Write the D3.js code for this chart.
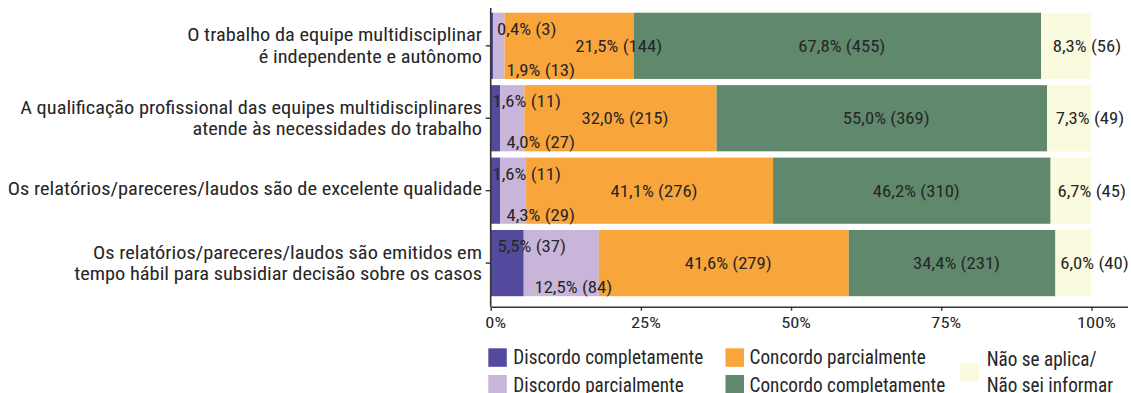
<!DOCTYPE html>
<html>
<head>
<meta charset="utf-8">
<script src="https://cdn.jsdelivr.net/npm/d3@7"></script>
<style>
  html, body { margin: 0; padding: 0; background: #ffffff; }
  svg { display: block; }
</style>
</head>
<body>
<svg id="chart" width="1131" height="393"></svg>
<script>
// Survey statements (one bar each); "\n" marks a line break in the axis label
const categories = [
  "O trabalho da equipe multidisciplinar\né independente e autônomo",
  "A qualificação profissional das equipes multidisciplinares\natende às necessidades do trabalho",
  "Os relatórios/pareceres/laudos são de excelente qualidade",
  "Os relatórios/pareceres/laudos são emitidos em\ntempo hábil para subsidiar decisão sobre os casos"
];

// Response shares (%) and counts, in stacking order
const discordoCompletamentePct = [0.4, 1.6, 1.6, 5.5];
const discordoCompletamenteN   = [3, 11, 11, 37];
const discordoParcialmentePct  = [1.9, 4.0, 4.3, 12.5];
const discordoParcialmenteN    = [13, 27, 29, 84];
const concordoParcialmentePct  = [21.5, 32.0, 41.1, 41.6];
const concordoParcialmenteN    = [144, 215, 276, 279];
const concordoCompletamentePct = [67.8, 55.0, 46.2, 34.4];
const concordoCompletamenteN   = [455, 369, 310, 231];
const naoSeAplicaPct           = [8.3, 7.3, 6.7, 6.0];
const naoSeAplicaN             = [56, 49, 45, 40];

const seriesNames = [
  "Discordo completamente",
  "Discordo parcialmente",
  "Concordo parcialmente",
  "Concordo completamente",
  "Não se aplica/\nNão sei informar"
];
const seriesColors = ["#544a9d", "#c9b5d9", "#f8a53c", "#5f886d", "#fafadf"];

const xTickValues = [0, 0.25, 0.5, 0.75, 1];
const xTickLabels = ["0%", "25%", "50%", "75%", "100%"];

const pctSeries = [discordoCompletamentePct, discordoParcialmentePct, concordoParcialmentePct,
                   concordoCompletamentePct, naoSeAplicaPct];
const nSeries = [discordoCompletamenteN, discordoParcialmenteN, concordoParcialmenteN,
                 concordoCompletamenteN, naoSeAplicaN];

// ---- font: prefer a condensed face, then fit each text group's width ----
function fontAvailable(name) {
  const ctx = document.createElement("canvas").getContext("2d");
  const s = "Discordo completamente 0123456789";
  let differs = false;
  for (const fb of ["monospace", "serif"]) {
    ctx.font = `40px ${fb}`;
    const a = ctx.measureText(s).width;
    ctx.font = `40px "${name}", ${fb}`;
    const b = ctx.measureText(s).width;
    if (Math.abs(a - b) > 0.5) differs = true;
  }
  return differs;
}
const fontCandidates = ["Roboto Condensed", "Roboto", "Liberation Sans Narrow", "DejaVu Sans Condensed", "Liberation Sans"];
const FONT = fontCandidates.find(fontAvailable) || "sans-serif";
const measureCtx = document.createElement("canvas").getContext("2d");
function fitScale(sample, size, width) {
  measureCtx.font = `${size}px "${FONT}"`;
  return Math.max(0.6, Math.min(1.4, width / measureCtx.measureText(sample).width));
}

// font sizes and horizontal scale per text group
const VALUE_SIZE = 16.5, CAT_SIZE = 18.5, TICK_SIZE = 15.5, LEGEND_SIZE = 20;
const sqValue  = fitScale("67,8% (455)", VALUE_SIZE, 87);
const sqCat    = fitScale("O trabalho da equipe multidisciplinar", CAT_SIZE, 295);
const sqTick   = fitScale("100%", TICK_SIZE, 39);
const sqLegend = fitScale("Discordo completamente", LEGEND_SIZE, 190);

const TEXT = "#262626";
const svg = d3.select("#chart").style("font-family", `"${FONT}", sans-serif`);

// ---- scales ----
const x = d3.scaleLinear().domain([0, 1.06]).range([490.7, 1127.5]);
const y = d3.scaleBand()
  .domain(categories)
  .range([8, 306.7])
  .paddingInner(0.086)
  .paddingOuter(0.105)
  .align(0.31);

// ---- stacked data ----
const rows = categories.map((c, i) => {
  const row = { cat: c };
  pctSeries.forEach((s, k) => { row[k] = s[i] / 100; });
  return row;
});
const stack = d3.stack().keys(d3.range(pctSeries.length))(rows);

// text placed through a transform so it can be scaled horizontally
function placeText(sel, fx, fy, sq) {
  sel.attr("transform", (d, i) => `translate(${fx(d, i)},${fy(d, i)}) scale(${sq},1)`);
}

// ---- bars ----
const layers = svg.append("g").selectAll("g")
  .data(stack)
  .join("g")
  .attr("fill", (d, k) => seriesColors[k]);

layers.selectAll("rect")
  .data(d => d)
  .join("rect")
  .attr("x", d => x(d[0]))
  .attr("y", d => y(d.data.cat))
  .attr("width", d => x(d[1]) - x(d[0]))
  .attr("height", y.bandwidth());

// ---- value labels ----
const x0 = x(0);
const labelRules = [
  // [x placement, vertical offset from band centre]
  (a, b) => [Math.max((a + b) / 2 + 24.5, x0 + 36), -17],
  (a, b) => [Math.max((a + b) / 2 + 12, x0 + 50), 24],
  (a, b) => [Math.max((a + b) / 2 + 4.5, x0 + 128), 0],
  (a, b) => [(a + b) / 2 + 4.5, 0],
  (a, b) => [(a + b) / 2 + 21, 0]
];
const fmt = v => v.toFixed(1).replace(".", ",");

stack.forEach((layer, k) => {
  const lg = svg.append("g");
  lg.selectAll("text")
    .data(layer)
    .join("text")
    .attr("text-anchor", "middle")
    .attr("dy", "0.36em")
    .attr("font-size", VALUE_SIZE)
    .attr("fill", TEXT)
    .text((d, i) => `${fmt(pctSeries[k][i])}% (${nSeries[k][i]})`)
    .call(placeText,
      d => labelRules[k](x(d[0]), x(d[1]))[0],
      d => y(d.data.cat) + y.bandwidth() / 2 + labelRules[k](x(d[0]), x(d[1]))[1],
      sqValue);
});

// ---- axes ----
const axisColor = "#333333";
const xAxisY = 306.7;

// horizontal axis
const gx = svg.append("g").attr("transform", `translate(0,${xAxisY})`)
  .call(d3.axisBottom(x).tickValues(xTickValues).tickSize(4).tickSizeOuter(0)
    .tickFormat((d, i) => xTickLabels[i]));
gx.select(".domain").attr("stroke", axisColor).attr("stroke-width", 1.6);
gx.selectAll(".tick line").attr("stroke", axisColor).attr("stroke-width", 1.4);
gx.selectAll(".tick text")
  .attr("y", null).attr("dy", null)
  .attr("font-family", `"${FONT}", sans-serif`)
  .attr("font-size", TICK_SIZE)
  .attr("fill", TEXT)
  .attr("transform", `translate(4.5,21) scale(${sqTick},1)`);

// vertical axis
const gy = svg.append("g").attr("transform", `translate(${x0},0)`)
  .call(d3.axisLeft(y).tickSize(5).tickSizeOuter(0).tickFormat(""));
gy.select(".domain").attr("d", `M0,8V${xAxisY}`).attr("stroke", axisColor).attr("stroke-width", 1.6);
gy.selectAll(".tick line").attr("stroke", axisColor).attr("stroke-width", 1.4);

// category labels, right aligned, one or two lines
const catG = svg.append("g").selectAll("text")
  .data(categories)
  .join("text")
  .attr("text-anchor", "end")
  .attr("font-size", CAT_SIZE)
  .attr("fill", TEXT)
  .call(placeText,
    () => 482,
    d => {
      const c = y(d) + y.bandwidth() / 2;
      return d.includes("\n") ? c - 4.4 : c + 4.5;
    },
    sqCat);
catG.each(function (d) {
  const lines = d.split("\n");
  d3.select(this).selectAll("tspan")
    .data(lines)
    .join("tspan")
    .attr("x", 0)
    .attr("y", (l, j) => j * 21.6)
    .text(l => l);
});

// ---- legend ----
const sw = 18.5;
const legendItems = [
  { k: 0, sx: 488.3, sy: 348.3, tx: 513.3, ty: [364.3] },
  { k: 1, sx: 488.3, sy: 375.0, tx: 513.3, ty: [391.6] },
  { k: 2, sx: 725.5, sy: 348.3, tx: 749.6, ty: [364.3] },
  { k: 3, sx: 725.5, sy: 375.0, tx: 749.6, ty: [391.6] },
  { k: 4, sx: 960.2, sy: 363.3, tx: 986.7, ty: [365.7, 391.7] }
];
const lg = svg.append("g").selectAll("g")
  .data(legendItems)
  .join("g");
lg.append("rect")
  .attr("x", d => d.sx)
  .attr("y", d => d.sy)
  .attr("width", sw)
  .attr("height", sw)
  .attr("fill", d => seriesColors[d.k]);
lg.append("text")
  .attr("font-size", LEGEND_SIZE)
  .attr("fill", TEXT)
  .call(placeText, d => d.tx, d => d.ty[0], sqLegend)
  .each(function (d) {
    const lines = seriesNames[d.k].split("\n");
    d3.select(this).selectAll("tspan")
      .data(lines)
      .join("tspan")
      .attr("x", 0)
      .attr("y", (l, j) => (d.ty[j] || d.ty[0]) - d.ty[0])
      .text(l => l);
  });
</script>
</body>
</html>
